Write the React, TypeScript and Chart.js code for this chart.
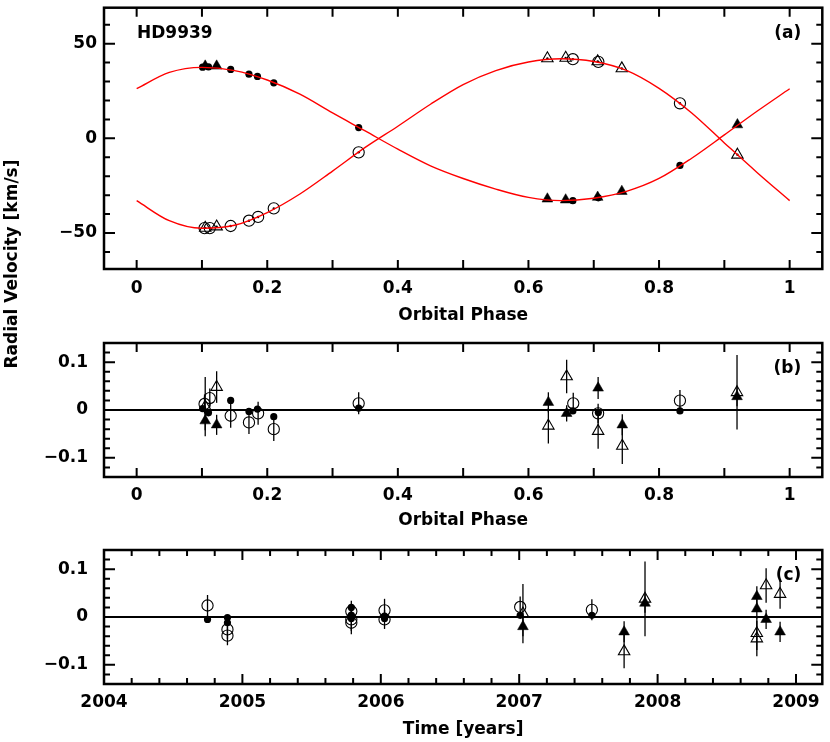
import React, { useEffect, useRef } from "react";
import { Chart, registerables } from "chart.js";

Chart.register(...registerables);

const W = 830;
const H = 742;
const FONT = "'DejaVu Sans', 'Liberation Sans', sans-serif";
const FSIZE = 17;
const FWEIGHT = "bold";

// ---- Panel (a): orbital fit curves (at 0.05 phase steps) ----
const curvePhase = [0, 0.05, 0.1, 0.15, 0.2, 0.25, 0.3, 0.35, 0.4, 0.45, 0.5, 0.55, 0.6, 0.65, 0.7, 0.75, 0.8, 0.85, 0.9, 0.95, 1.0];
const curvePrimary = [26.2, 34.8, 37.5, 35.8, 30.8, 23.3, 13.4, 3.9, -5.7, -14.5, -21.2, -26.8, -31.2, -32.9, -31.6, -28.0, -21.2, -10.5, 1.8, 14.3, 26.2];
const curveSecondary = [-32.9, -43.5, -47.5, -45.9, -39.2, -29.4, -17.3, -4.8, 6.4, 18.0, 28.4, 35.8, 40.3, 42.0, 40.6, 35.9, 26.4, 13.4, -2.4, -18.0, -32.9];

// primary, instrument 1 (filled circles)
const aPrimCircPhase = [0.101, 0.110, 0.144, 0.172, 0.185, 0.210, 0.340, 0.668, 0.707, 0.832];
const aPrimCircRV = [37.6, 37.7, 36.4, 33.9, 32.7, 29.3, 5.7, -32.9, -31.4, -14.3];
// primary, instrument 2 (filled triangles)
const aPrimTriPhase = [0.105, 0.1225, 0.629, 0.657, 0.706, 0.743, 0.920];
const aPrimTriRV = [38.2, 38.2, -32.0, -32.5, -31.1, -28.0, 7.2];
// secondary, instrument 1 (open circles)
const aSecCircPhase = [0.104, 0.112, 0.144, 0.172, 0.186, 0.210, 0.340, 0.668, 0.707, 0.832];
const aSecCircRV = [-47.4, -47.4, -46.3, -43.5, -41.5, -37.0, -7.4, 41.8, 40.4, 18.5];
// secondary, instrument 2 (open triangles)
const aSecTriPhase = [0.105, 0.1225, 0.629, 0.657, 0.706, 0.743, 0.920];
const aSecTriRV = [-47.3, -46.6, 42.2, 42.5, 40.6, 36.9, -8.7];

// ---- Panel (b): residuals vs phase ----
const bPrimCircPhase = [0.101, 0.110, 0.144, 0.172, 0.185, 0.210, 0.340, 0.668, 0.707, 0.832];
const bPrimCircRes = [0.003, -0.006, 0.020, -0.003, 0.002, -0.014, 0.004, -0.002, -0.005, -0.002];
const bPrimCircErr = [0.004, 0.004, 0.004, 0.004, 0.004, 0.004, 0.004, 0.004, 0.004, 0.004];
const bPrimTriPhase = [0.105, 0.1225, 0.6305, 0.6585, 0.7067, 0.7437, 0.9194];
const bPrimTriRes = [-0.0225, -0.031, 0.016, -0.007, 0.046, -0.031, 0.028];
const bPrimTriErr = [0.02, 0.021, 0.021, 0.017, 0.023, 0.022, 0.02];
const bSecCircPhase = [0.104, 0.112, 0.144, 0.172, 0.186, 0.210, 0.340, 0.6686, 0.7067, 0.832];
const bSecCircRes = [0.0126, 0.025, -0.012, -0.026, -0.007, -0.040, 0.014, 0.014, -0.007, 0.0196];
const bSecCircErr = [0.02, 0.02, 0.025, 0.024, 0.024, 0.025, 0.023, 0.022, 0.02, 0.022];
const bSecTriPhase = [0.105, 0.1225, 0.6305, 0.6585, 0.7067, 0.7437, 0.9194];
const bSecTriRes = [0.007, 0.048, -0.033, 0.070, -0.044, -0.075, 0.037];
const bSecTriErr = [0.062, 0.033, 0.037, 0.035, 0.037, 0.038, 0.078];

// ---- Panel (c): residuals vs time ----
const cPrimCircTime = [2004.748, 2004.892, 2004.892, 2005.787, 2005.787, 2005.787, 2006.027, 2006.027, 2007.007, 2007.525];
const cPrimCircRes = [-0.005, -0.001, -0.012, 0.020, 0.004, -0.003, 0.002, -0.003, 0.0035, 0.0035];
const cPrimCircErr = [0.004, 0.004, 0.004, 0.004, 0.004, 0.004, 0.004, 0.004, 0.004, 0.004];
const cPrimTriTime = [2007.027, 2007.758, 2007.909, 2008.717, 2008.717, 2008.784, 2008.885];
const cPrimTriRes = [-0.020, -0.031, 0.029, 0.043, 0.017, -0.005, -0.031];
const cPrimTriErr = [0.02, 0.022, 0.02, 0.021, 0.02, 0.02, 0.021];
const cSecCircTime = [2004.748, 2004.892, 2004.892, 2005.787, 2005.787, 2005.787, 2006.027, 2006.027, 2007.007, 2007.525];
const cSecCircRes = [0.024, -0.026, -0.039, 0.012, -0.005, -0.012, 0.014, -0.005, 0.021, 0.015];
const cSecCircErr = [0.022, 0.02, 0.02, 0.022, 0.024, 0.024, 0.024, 0.02, 0.022, 0.022];
const cSecTriTime = [2007.027, 2007.758, 2007.909, 2008.717, 2008.717, 2008.784, 2008.885];
const cSecTriRes = [0.007, -0.072, 0.038, -0.034, -0.045, 0.066, 0.048];
const cSecTriErr = [0.062, 0.035, 0.078, 0.035, 0.037, 0.036, 0.031];

const pts = (xs: number[], ys: number[]) => xs.map((x, i) => ({ x, y: ys[i] }));

const fmtNum = (v: number, dec: number) => {
  const f = Math.pow(10, dec);
  const r = Math.round(v * f) / f;
  if (r === 0) return "0";
  return r < 0 ? "\u2212" + String(-r) : String(r);
};

type PanelOpts = {
  xStep: number; xMajor: number; xMajorLen: number; xMinorLen: number;
  yStep: number; yMajor: number; yMajorLen: number; yMinorLen: number;
  zeroLine: boolean; label: string; star?: string; yTitle?: string;
};

const panelPlugin = {
  id: "panel",
  beforeDatasetsDraw(chart: any) {
    const ctx = chart.ctx;
    const xs = chart.scales.x, ys = chart.scales.y;
    const o: PanelOpts = chart.options.plugins.panel;
    const ca = chart.chartArea;
    ctx.save();
    if (o.zeroLine) {
      const y0 = ys.getPixelForValue(0);
      ctx.strokeStyle = "#000";
      ctx.lineWidth = 2;
      ctx.beginPath();
      ctx.moveTo(ca.left, y0);
      ctx.lineTo(ca.right, y0);
      ctx.stroke();
    }
    // error bars
    ctx.strokeStyle = "#000";
    ctx.lineWidth = 1.3;
    chart.data.datasets.forEach((ds: any) => {
      if (!ds.errors) return;
      ds.data.forEach((p: any, i: number) => {
        const e = ds.errors[i];
        const px = xs.getPixelForValue(p.x);
        ctx.beginPath();
        ctx.moveTo(px, ys.getPixelForValue(p.y - e));
        ctx.lineTo(px, ys.getPixelForValue(p.y + e));
        ctx.stroke();
      });
    });
    ctx.restore();
  },
  afterDraw(chart: any) {
    const ctx = chart.ctx;
    const xs = chart.scales.x, ys = chart.scales.y;
    const o: PanelOpts = chart.options.plugins.panel;
    const ca = chart.chartArea;
    ctx.save();
    ctx.strokeStyle = "#000";
    ctx.lineWidth = 2;
    const isMajor = (v: number, m: number) => Math.abs(v / m - Math.round(v / m)) < 1e-6;
    for (let k = Math.ceil(xs.min / o.xStep - 1e-9); k * o.xStep <= xs.max + 1e-9; k++) {
      const v = k * o.xStep;
      const px = xs.getPixelForValue(v);
      const len = isMajor(v, o.xMajor) ? o.xMajorLen : o.xMinorLen;
      ctx.beginPath();
      ctx.moveTo(px, ca.bottom);
      ctx.lineTo(px, ca.bottom - len);
      ctx.moveTo(px, ca.top);
      ctx.lineTo(px, ca.top + len);
      ctx.stroke();
    }
    for (let k = Math.ceil(ys.min / o.yStep - 1e-9); k * o.yStep <= ys.max + 1e-9; k++) {
      const v = k * o.yStep;
      const py = ys.getPixelForValue(v);
      const len = isMajor(v, o.yMajor) ? o.yMajorLen : o.yMinorLen;
      ctx.beginPath();
      ctx.moveTo(ca.left, py);
      ctx.lineTo(ca.left + len, py);
      ctx.moveTo(ca.right, py);
      ctx.lineTo(ca.right - len, py);
      ctx.stroke();
    }
    ctx.lineWidth = 2.5;
    ctx.strokeRect(ca.left, ca.top, ca.right - ca.left, ca.bottom - ca.top);
    ctx.fillStyle = "#000";
    ctx.font = `${FWEIGHT} ${FSIZE}px ${FONT}`;
    ctx.textBaseline = "middle";
    ctx.textAlign = "right";
    ctx.fillText(o.label, ca.right - 21, ca.top + 26);
    if (o.star) {
      ctx.textAlign = "left";
      ctx.fillText(o.star, ca.left + 33, ca.top + 26);
    }
    if (o.yTitle) {
      ctx.translate(13, 264);
      ctx.rotate(-Math.PI / 2);
      ctx.textAlign = "center";
      ctx.fillText(o.yTitle, 0, 0);
    }
    ctx.restore();
  },
};

const filledCircle = { pointStyle: "circle", pointRadius: 3.6, backgroundColor: "#000", borderColor: "#000", borderWidth: 0 };
const filledTri = { pointStyle: "triangle", pointRadius: 6.2, backgroundColor: "#000", borderColor: "#000", borderWidth: 0.5 };
const openCircle = { pointStyle: "circle", pointRadius: 5.6, backgroundColor: "rgba(0,0,0,0)", borderColor: "#000", borderWidth: 1.1 };
const openTri = { pointStyle: "triangle", pointRadius: 6.6, backgroundColor: "rgba(0,0,0,0)", borderColor: "#000", borderWidth: 1.1 };
const centerDot = { pointStyle: "circle", pointRadius: 1.2, backgroundColor: "#000", borderColor: "#000", borderWidth: 0 };

function makeConfig(kind: "a" | "b" | "c"): any {
  let datasets: any[] = [];
  let xMin = -0.05, xMax = 1.05, xStep = 0.2;
  let yMin = -0.14, yMax = 0.14, yStepLbl = 0.1, yDec = 2;
  let top = 343, bottom = 477, xH = 54, lblPad = 8, yLblPad = 16;
  let xTitle = "Orbital Phase";
  let panel: PanelOpts = {
    xStep: 0.1, xMajor: 0.2, xMajorLen: 9, xMinorLen: 9,
    yStep: 0.02, yMajor: 0.1, yMajorLen: 11, yMinorLen: 6,
    zeroLine: true, label: "(b)",
  };
  let xFmt = (v: number) => fmtNum(v, 1);
  if (kind === "a") {
    yMin = -69; yMax = 69; yStepLbl = 50; yDec = 0;
    top = 3; bottom = 269; xH = 57; lblPad = 9; yLblPad = 7;
    panel = { ...panel, yStep: 10, yMajor: 50, zeroLine: false, label: "(a)", star: "HD9939", yTitle: "Radial Velocity [km/s]" };
    datasets = [
      { data: pts(curvePhase, curvePrimary), showLine: true, pointRadius: 0, borderColor: "#ff0000", borderWidth: 1.4, cubicInterpolationMode: "monotone" },
      { data: pts(curvePhase, curveSecondary), showLine: true, pointRadius: 0, borderColor: "#ff0000", borderWidth: 1.4, cubicInterpolationMode: "monotone" },
      { data: pts(aPrimCircPhase, aPrimCircRV), ...filledCircle },
      { data: pts(aPrimTriPhase, aPrimTriRV), ...filledTri },
      { data: pts(aSecCircPhase, aSecCircRV), ...openCircle },
      { data: pts(aSecTriPhase, aSecTriRV), ...openTri },
      { data: pts(aSecCircPhase, aSecCircRV), ...centerDot },
      { data: pts(aSecTriPhase, aSecTriRV), ...centerDot },
    ];
  } else if (kind === "b") {
    datasets = [
      { data: pts(bSecTriPhase, bSecTriRes), errors: bSecTriErr, ...openTri },
      { data: pts(bSecCircPhase, bSecCircRes), errors: bSecCircErr, ...openCircle },
      { data: pts(bPrimTriPhase, bPrimTriRes), errors: bPrimTriErr, ...filledTri },
      { data: pts(bPrimCircPhase, bPrimCircRes), errors: bPrimCircErr, ...filledCircle },
    ];
  } else {
    xMin = 2004; xMax = 2009.19; xStep = 1;
    top = 550; bottom = 684; xH = 56; lblPad = 8;
    xTitle = "Time [years]";
    xFmt = (v: number) => String(Math.round(v));
    panel = { ...panel, xStep: 0.2, xMajor: 1, xMajorLen: 10, xMinorLen: 6, label: "(c)" };
    datasets = [
      { data: pts(cSecTriTime, cSecTriRes), errors: cSecTriErr, ...openTri },
      { data: pts(cSecCircTime, cSecCircRes), errors: cSecCircErr, ...openCircle },
      { data: pts(cPrimTriTime, cPrimTriRes), errors: cPrimTriErr, ...filledTri },
      { data: pts(cPrimCircTime, cPrimCircRes), errors: cPrimCircErr, ...filledCircle },
    ];
  }
  const font = { family: FONT, size: FSIZE, weight: FWEIGHT };
  return {
    type: "scatter",
    data: { datasets },
    options: {
      responsive: false,
      animation: false,
      devicePixelRatio: 1,
      events: [],
      layout: { padding: { left: 0, right: 4, top, bottom: H - bottom - xH } },
      plugins: { legend: { display: false }, tooltip: { enabled: false }, panel },
      scales: {
        x: {
          type: "linear",
          min: xMin, max: xMax,
          grid: { display: false, drawTicks: false },
          border: { display: false },
          ticks: { stepSize: xStep, includeBounds: false, padding: lblPad, color: "#000", maxRotation: 0, autoSkip: false, font, callback: (v: any) => xFmt(Number(v)) },
          title: { display: true, text: xTitle, color: "#000", padding: 0, font },
          afterFit: (s: any) => { s.height = xH; s.paddingLeft = 0; s.paddingRight = 0; },
        },
        y: {
          type: "linear",
          min: yMin, max: yMax,
          grid: { display: false, drawTicks: false },
          border: { display: false },
          ticks: { stepSize: yStepLbl, includeBounds: false, padding: yLblPad, color: "#000", font, callback: (v: any) => fmtNum(Number(v), yDec) },
          afterFit: (s: any) => { s.width = 104; s.paddingTop = 0; s.paddingBottom = 0; },
        },
      },
    },
    plugins: [panelPlugin],
  };
}

function Panel({ kind }: { kind: "a" | "b" | "c" }) {
  const ref = useRef<HTMLCanvasElement | null>(null);
  useEffect(() => {
    if (!ref.current) return;
    const chart = new Chart(ref.current, makeConfig(kind));
    return () => chart.destroy();
  }, [kind]);
  return (
    <canvas
      ref={ref}
      width={W}
      height={H}
      style={{ position: "absolute", left: 0, top: 0, width: W, height: H }}
    />
  );
}

export default function App() {
  return (
    <div style={{ position: "absolute", left: 0, top: 0, width: W, height: H, background: "#fff", overflow: "hidden" }}>
      <Panel kind="a" />
      <Panel kind="b" />
      <Panel kind="c" />
    </div>
  );
}
